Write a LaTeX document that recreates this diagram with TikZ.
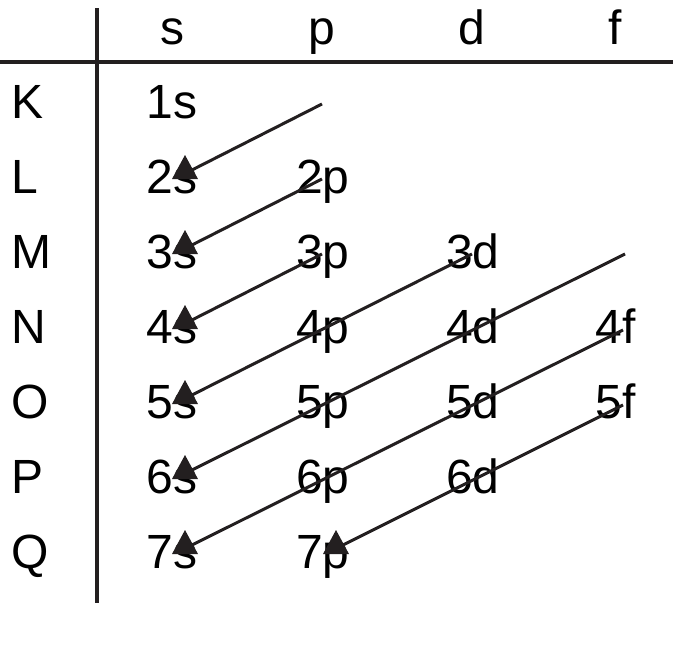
\documentclass[tikz,border=0pt]{standalone}
\usepackage{fontspec}
\setmainfont{Liberation Sans}
\definecolor{ink}{HTML}{231F20}
\newcommand{\uptri}[1]{\fill[ink] ([xshift=13pt,yshift=38pt]#1.base) -- ([xshift=0pt,yshift=14pt]#1.base) -- ([xshift=26pt,yshift=14pt]#1.base) -- cycle;}
\begin{document}
\begin{tikzpicture}[x=1pt,y=-1pt,
  lbl/.style={font=\fontsize{48}{48}\selectfont, inner sep=0pt, outer sep=0pt, anchor=base},
  rowlbl/.style={lbl, anchor=base west},
  rule/.style={draw=ink, line width=3.2pt},
  conn/.style={draw=ink, line width=3pt}]
\useasboundingbox (0,0) rectangle (673,667);
% grid lines
\draw[rule] (0,62) -- (673,62);
\draw[rule] (97,8) -- (97,603);
% header
\node[lbl] (hs) at (172,44) {s};
\node[lbl] (hp) at (322,44) {p};
\node[lbl] (hd) at (472,44) {d};
\node[lbl] (hf) at (615,44) {f};
% row labels
\node[rowlbl] (rK) at (12,118) {K};
\node[rowlbl] (rL) at (12,193) {L};
\node[rowlbl] (rM) at (12,268) {M};
\node[rowlbl] (rN) at (12,343) {N};
\node[rowlbl] (rO) at (12,418) {O};
\node[rowlbl] (rP) at (12,493) {P};
\node[rowlbl] (rQ) at (12,568) {Q};
% cells
\node[lbl] (c1s) at (172,118) {1s};
\node[lbl] (c2s) at (172,193) {2s};
\node[lbl] (c2p) at (323,193) {2p};
\node[lbl] (c3s) at (172,268) {3s};
\node[lbl] (c3p) at (323,268) {3p};
\node[lbl] (c3d) at (473,268) {3d};
\node[lbl] (c4s) at (172,343) {4s};
\node[lbl] (c4p) at (323,343) {4p};
\node[lbl] (c4d) at (473,343) {4d};
\node[lbl] (c4f) at (616,343) {4f};
\node[lbl] (c5s) at (172,418) {5s};
\node[lbl] (c5p) at (323,418) {5p};
\node[lbl] (c5d) at (473,418) {5d};
\node[lbl] (c5f) at (616,418) {5f};
\node[lbl] (c6s) at (172,493) {6s};
\node[lbl] (c6p) at (323,493) {6p};
\node[lbl] (c6d) at (473,493) {6d};
\node[lbl] (c7s) at (172,568) {7s};
\node[lbl] (c7p) at (323,568) {7p};
% start points
\coordinate (kp) at (322,104);
\coordinate (mf) at (625,254);
\coordinate (a2) at ([xshift=-1pt,yshift=14pt]c2p.base);
\coordinate (a3) at ([xshift=-1pt,yshift=14pt]c3p.base);
\coordinate (a4) at ([xshift=-1pt,yshift=14pt]c3d.base);
\coordinate (a6) at ([xshift=7pt,yshift=13pt]c4f.base);
\coordinate (a7) at ([xshift=7pt,yshift=13pt]c5f.base);
% end points
\coordinate (e2s) at ([xshift=16pt,yshift=21pt]c2s.base);
\coordinate (e3s) at ([xshift=16pt,yshift=21pt]c3s.base);
\coordinate (e4s) at ([xshift=16pt,yshift=21pt]c4s.base);
\coordinate (e5s) at ([xshift=16pt,yshift=21pt]c5s.base);
\coordinate (e6s) at ([xshift=16pt,yshift=21pt]c6s.base);
\coordinate (e7s) at ([xshift=16pt,yshift=21pt]c7s.base);
\coordinate (e7p) at ([xshift=16pt,yshift=21pt]c7p.base);
% connectors
\draw[conn] (kp) -- (e2s);
\draw[conn] (a2) -- (e3s);
\draw[conn] (a3) -- (e4s);
\draw[conn] (a4) -- (e5s);
\draw[conn] (mf) -- (e6s);
\draw[conn] (a6) -- (e7s);
\draw[conn] (a7) -- (e7p);
% arrowheads
\uptri{c2s}
\uptri{c3s}
\uptri{c4s}
\uptri{c5s}
\uptri{c6s}
\uptri{c7s}
\uptri{c7p}
\end{tikzpicture}
\end{document}
